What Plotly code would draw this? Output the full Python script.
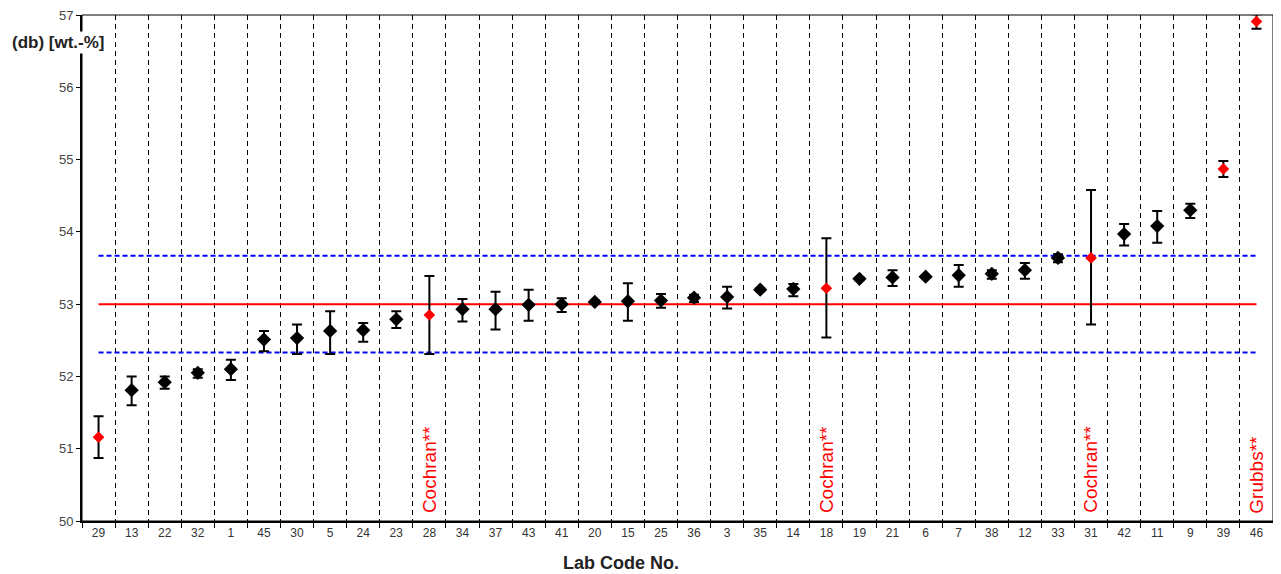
import plotly.graph_objects as go

labs = ["29","13","22","32","1","45","30","5","24","23","28","34","37","43","41","20","15","25",
        "36","3","35","14","18","19","21","6","7","38","12","33","31","42","11","9","39","46"]
means = [51.16,51.81,51.92,52.05,52.10,52.51,52.53,52.63,52.64,52.79,52.85,52.93,52.93,52.99,53.00,53.03,53.04,53.05,
         53.09,53.10,53.20,53.21,53.22,53.35,53.37,53.38,53.40,53.42,53.47,53.64,53.64,53.97,54.08,54.30,54.87,56.91]
err_plus = [0.29,0.19,0.08,0.05,0.13,0.12,0.19,0.27,0.10,0.11,0.54,0.14,0.24,0.21,0.08,0.02,0.25,0.09,
            0.04,0.14,0.02,0.07,0.69,0.02,0.10,0.01,0.14,0.05,0.10,0.05,0.94,0.14,0.21,0.09,0.11,0.10]
err_minus = [0.29,0.21,0.09,0.07,0.15,0.16,0.22,0.32,0.16,0.12,0.54,0.17,0.28,0.22,0.11,0.02,0.27,0.10,
             0.06,0.16,0.02,0.10,0.68,0.02,0.12,0.01,0.16,0.07,0.12,0.06,0.92,0.16,0.23,0.11,0.11,0.10]
outliers = ["29","28","18","31","39","46"]
flag_labs = ["28","18","31","46"]
flag_text = ["Cochran**","Cochran**","Cochran**","Grubbs**"]
ref_mean = 53.0
ref_upper = 53.67
ref_lower = 52.33

xs = list(range(len(labs)))
colors = ["#FF0000" if l in outliers else "#000000" for l in labs]
sizes = [9 if l in outliers else 11 for l in labs]

fig = go.Figure()
fig.add_trace(go.Scatter(x=[xs[0], xs[-1]], y=[ref_upper, ref_upper], mode="lines",
                         line=dict(color="#0000FF", width=2, dash="5px,3px"), showlegend=False, hoverinfo="skip"))
fig.add_trace(go.Scatter(x=[xs[0], xs[-1]], y=[ref_lower, ref_lower], mode="lines",
                         line=dict(color="#0000FF", width=2, dash="5px,3px"), showlegend=False, hoverinfo="skip"))
fig.add_trace(go.Scatter(x=[xs[0], xs[-1]], y=[ref_mean, ref_mean], mode="lines",
                         line=dict(color="#FF0000", width=2), showlegend=False, hoverinfo="skip"))
fig.add_trace(go.Scatter(x=xs, y=means, mode="markers", cliponaxis=False,
                         marker=dict(symbol="diamond", color=colors, size=sizes, opacity=1,
                                     line=dict(width=0)),
                         error_y=dict(type="data", symmetric=False, array=err_plus, arrayminus=err_minus,
                                      color="#000000", thickness=2, width=5),
                         showlegend=False))

for lab, txt in zip(flag_labs, flag_text):
    fig.add_annotation(x=labs.index(lab), y=50.08, text=txt, textangle=-90, showarrow=False,
                       xanchor="center", yanchor="bottom",
                       font=dict(family="Liberation Sans, Arial", size=19, color="#FF0000"))

fig.add_annotation(xref="paper", yref="paper", x=-0.0605, y=0.9466, xanchor="left", yanchor="middle",
                   text="<b>(db) [wt.-%]</b>", showarrow=False, bgcolor="white",
                   font=dict(family="Liberation Sans, Arial", size=17, color="#222222"))
fig.add_annotation(xref="paper", yref="paper", x=0.4526, y=-0.083, xanchor="center", yanchor="middle",
                   text="<b>Lab Code No.</b>", showarrow=False,
                   font=dict(family="Liberation Sans, Arial", size=18, color="#222222"))

fig.add_shape(type="rect", xref="paper", yref="paper", x0=0, y0=0, x1=1, y1=1,
              line=dict(color="black", width=1))

fig.update_xaxes(range=[-0.5, len(labs) - 0.5], tickmode="array", tickvals=xs, ticktext=labs,
                 ticks="", showgrid=False, zeroline=False, showline=True, linecolor="black", linewidth=2,
                 automargin=False,
                 tickfont=dict(family="Liberation Sans, Arial", size=12, color="#333333"),
                 minor=dict(tick0=-0.5, dtick=1, ticks="outside", ticklen=5, tickcolor="black",
                            showgrid=True, gridcolor="black", gridwidth=1, griddash="5px,4px"))
fig.update_yaxes(range=[50, 57], dtick=1, ticks="outside", ticklen=4, tickcolor="black",
                 showgrid=False, zeroline=False, showline=True, linecolor="black", linewidth=2,
                 ticklabeloverflow="allow", automargin=False,
                 tickfont=dict(family="Liberation Sans, Arial", size=13, color="#444444"))

fig.update_layout(width=1281, height=574, margin=dict(l=74, r=16, t=7, b=61, autoexpand=False),
                  plot_bgcolor="white", paper_bgcolor="white",
                  font=dict(family="Liberation Sans, Arial"))
fig.write_html("out.html")
